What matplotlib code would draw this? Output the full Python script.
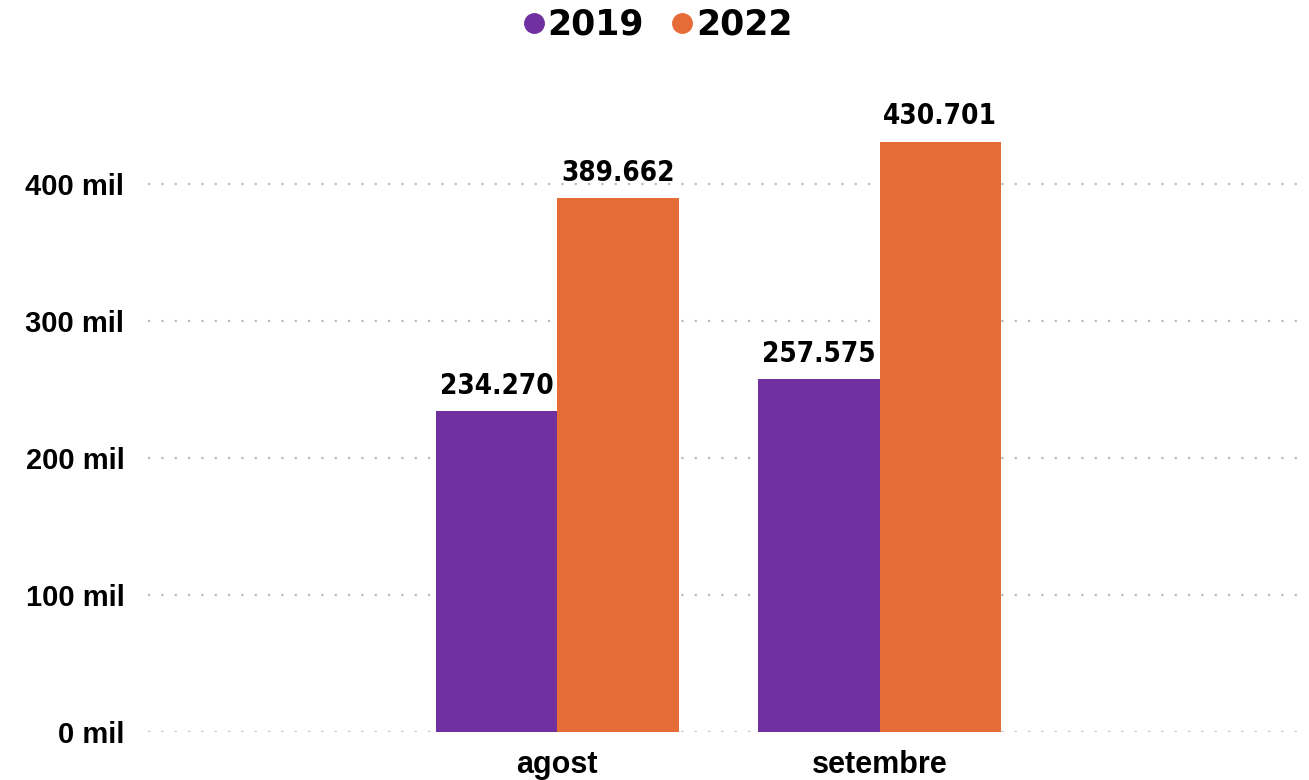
import matplotlib.pyplot as plt
from matplotlib.lines import Line2D
import numpy as np

months = ["agost", "setembre"]
years = ["2019", "2022"]
values_2019 = [234270, 257575]
values_2022 = [389662, 430701]
y_ticks = [0, 100000, 200000, 300000, 400000]
y_tick_labels = ["0 mil", "100 mil", "200 mil", "300 mil", "400 mil"]

colors = ["#7030A0", "#E66C37"]

fig = plt.figure(figsize=(13.09, 7.8), dpi=100)
ax = fig.add_axes([148 / 1309, 48 / 780, 1157 / 1309, 632 / 780])

x = np.arange(len(months))
width = 0.377

for k, vals in enumerate([values_2019, values_2022]):
    xs = x + (k - 0.5) * width
    ax.bar(xs, vals, width=width, color=colors[k], zorder=3)
    for xi, v in zip(xs, vals):
        label = f"{v:,}".replace(",", ".")
        ax.annotate(label, (xi, v), xytext=(0, 8), textcoords="offset points",
                    ha="center", va="bottom", fontsize=20, fontweight="bold",
                    fontstretch="condensed", family="DejaVu Sans")

ax.set_xlim(-1.27, 2.32)
ax.set_ylim(0, 461000)
ax.set_yticks(y_ticks)
ax.set_yticklabels(y_tick_labels, fontsize=21, fontweight="bold",
                   family="Liberation Sans")
ax.set_xticks(x)
ax.set_xticklabels(months, fontsize=22, fontweight="bold", family="Liberation Sans")
ax.tick_params(axis="both", length=0)
ax.tick_params(axis="y", pad=17)
ax.tick_params(axis="x", pad=13)

ax.grid(axis="y", color="#BBBBBB", linestyle=(0, (1, 5)), linewidth=1.6, zorder=0)
for s in ax.spines.values():
    s.set_visible(False)

handles = [Line2D([], [], marker="o", linestyle="", markersize=14, color=c) for c in colors]
fig.legend(handles, years, loc="upper center", bbox_to_anchor=(0.5, 1.03), ncol=2,
           frameon=False, handletextpad=-0.1, columnspacing=0.6, handlelength=1.0,
           prop={"family": "DejaVu Sans", "weight": "bold", "size": 25})

fig.savefig("out.png", dpi=100)
